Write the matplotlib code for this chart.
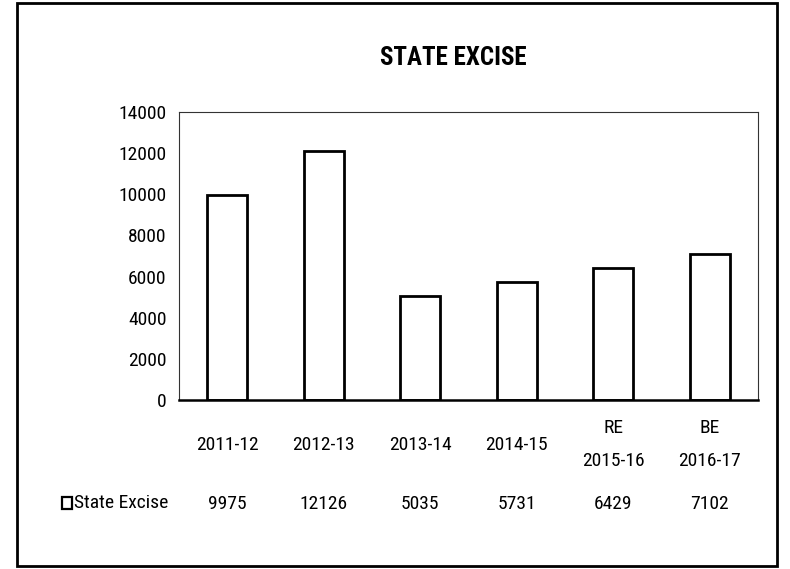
import numpy as np
import matplotlib.pyplot as plt
from matplotlib.patches import Rectangle
from matplotlib import font_manager

names = set(f.name for f in font_manager.fontManager.ttflist)
fam = 'Liberation Sans'
for cand in ['Liberation Sans Narrow', 'Roboto Condensed', 'DejaVu Sans Condensed']:
    if cand in names:
        fam = cand
        break
plt.rcParams['font.family'] = [fam, 'DejaVu Sans']

years = ['2011-12', '2012-13', '2013-14', '2014-15', 'RE\n2015-16', 'BE\n2016-17']
values = [9975, 12126, 5035, 5731, 6429, 7102]
series = 'State Excise'
yticks = [0, 2000, 4000, 6000, 8000, 10000, 12000, 14000]

fs = 14
fig = plt.figure(figsize=(7.9, 5.69), dpi=100)
ax = fig.add_axes([179/790, 1-400/569, 579/790, 288/569])

x = np.arange(len(years))
ax.bar(x, values, width=0.41, color='white', edgecolor='black', linewidth=2)

ax.set_xlim(-0.5, len(years)-0.5)
ax.set_ylim(0, 14000)
ax.set_yticks(yticks)
ax.set_yticklabels([str(v) for v in yticks], fontsize=fs)
ax.tick_params(axis='y', length=0, pad=9)
ax.set_xticks([])
for s in ['top', 'right', 'left']:
    ax.spines[s].set_linewidth(0.8)
    ax.spines[s].set_color('#333333')
ax.spines['bottom'].set_linewidth(1.8)

# data table under the chart
trans = ax.get_xaxis_transform()
for i, (lab, v) in enumerate(zip(years, values)):
    ax.text(i, -0.155, lab, transform=trans, ha='center', va='center', fontsize=fs, linespacing=2.1)
    ax.text(i, -0.36, str(v), transform=trans, ha='center', va='center', fontsize=fs)

# legend key of the table
fig.patches.append(Rectangle((62/790, 1-509/569), 10/790, 12/569, transform=fig.transFigure,
                             fill=False, edgecolor='black', linewidth=1.6))
fig.text(74/790, 1-503/569, series, ha='left', va='center', fontsize=fs)

fig.text(453/790, 1-58/569, 'STATE EXCISE', ha='center', va='center', fontsize=18, fontweight='bold')

fig.patches.append(Rectangle((17/790, 1-566/569), 760/790, 563/569, transform=fig.transFigure,
                             fill=False, edgecolor='black', linewidth=2))

fig.savefig('out.png', dpi=100)
